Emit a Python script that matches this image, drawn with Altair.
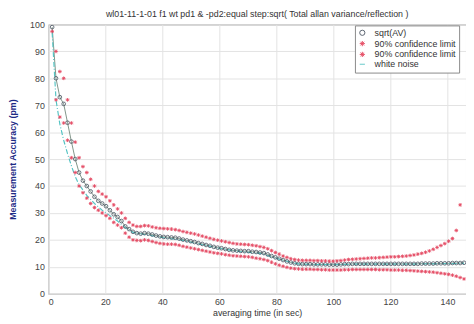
import altair as alt
import pandas as pd

# sample times (sec)
tau = [1.35, 2.7, 4.05, 5.4, 6.75, 8.1, 9.45, 10.8, 12.15, 13.5, 14.85, 16.2, 17.55, 18.9,
       20.25, 21.6, 22.95, 24.3, 25.65, 27, 28.35, 29.7, 31.05, 32.4, 33.75, 35.1, 36.45,
       37.8, 39.15, 40.5, 41.85, 43.2, 44.55, 45.9, 47.25, 48.6, 49.95, 51.3, 52.65, 54,
       55.35, 56.7, 58.05, 59.4, 60.75, 62.1, 63.45, 64.8, 66.15, 67.5, 68.85, 70.2, 71.55,
       72.9, 74.25, 75.6, 76.95, 78.3, 79.65, 81, 82.35, 83.7, 85.05, 86.4, 87.75, 89.1,
       90.45, 91.8, 93.15, 94.5, 95.85, 97.2, 98.55, 99.9, 101.25, 102.6, 103.95, 105.3,
       106.65, 108, 109.35, 110.7, 112.05, 113.4, 114.75, 116.1, 117.45, 118.8, 120.15,
       121.5, 122.85, 124.2, 125.55, 126.9, 128.25, 129.6, 130.95, 132.3, 133.65, 135,
       136.35, 137.7, 139.05, 140.4, 141.75, 143.1, 144.45, 145.8]

upper = [112, 90, 82.5, 80, 72, 63.4, 56.3, 50.5, 47.2, 45, 42.5, 40, 38, 37,
         36, 34.5, 33, 31.5, 30, 28, 26.5, 25.5, 25, 25, 25.3, 25.2, 24.8,
         24.5, 24.3, 24.2, 24.1, 24, 23.8, 23.5, 23.1, 22.8, 22.5, 22.2, 21.8, 21.4,
         21, 20.6, 20.2, 19.9, 19.6, 19.3, 19, 18.7, 18.5, 18.4, 18.3, 18.2, 18,
         17.8, 17.5, 17.2, 16.7, 16, 15.3, 14.7, 14, 13.5, 13, 12.7, 12.5, 12.4,
         12.4, 12.4, 12.3, 12.3, 12.2, 12.2, 12.1, 12.1, 12.2, 12.3, 12.5, 12.7,
         12.8, 12.9, 13, 13.1, 13.2, 13.3, 13.3, 13.4, 13.5, 13.6, 13.7,
         13.7, 13.8, 13.9, 14, 14.2, 14.4, 14.7, 15, 15.4, 15.9, 16.5,
         17.2, 17.9, 18.6, 19.5, 20.5, 23.5, 33, None]

sqrt_av = [99, 80, 73, 70.5, 63.5, 56.5, 50, 45, 42, 40, 38, 36, 34.5, 33.5,
           32.5, 31, 29.5, 28.5, 27, 25, 24, 23, 22.5, 22.3, 22.5, 22.3, 22,
           21.6, 21.3, 21.1, 21, 20.9, 20.8, 20.5, 20.1, 19.8, 19.5, 19.2, 18.8, 18.5,
           18.1, 17.8, 17.4, 17.1, 16.9, 16.6, 16.3, 16.1, 16, 15.9, 15.8, 15.8, 15.6,
           15.5, 15.3, 15.1, 14.6, 14, 13.5, 13, 12.5, 12, 11.6, 11.3, 11.1, 11,
           11, 11, 10.9, 10.9, 10.9, 10.9, 10.8, 10.8, 10.8, 10.9, 11, 11,
           11.1, 11.1, 11.1, 11.1, 11.1, 11.1, 11.1, 11.1, 11.1, 11.1, 11.1,
           11.1, 11.1, 11.1, 11.1, 11.1, 11.1, 11.1, 11.2, 11.2, 11.2, 11.2,
           11.3, 11.3, 11.3, 11.3, 11.4, 11.4, 11.4, 11.5]

lower = [97.4, 72, 65.6, 63.4, 57, 50.5, 45, 40, 37.5, 35.5, 33.5, 32, 31, 30,
         29, 28, 26.5, 25.5, 24.5, 22.5, 21, 20, 19.8, 19.7, 20, 19.8, 19.4,
         19, 18.7, 18.5, 18.4, 18.4, 18.3, 18, 17.6, 17.3, 17, 16.7, 16.4, 16.1,
         15.8, 15.5, 15.2, 15, 14.8, 14.5, 14.3, 14.1, 14, 13.9, 13.8, 13.7, 13.5,
         13.2, 13, 12.7, 12.3, 11.7, 11.1, 10.6, 10.2, 9.8, 9.5, 9.3, 9.2, 9.1,
         9.1, 9.1, 9, 9, 8.9, 8.9, 8.8, 8.8, 8.8, 8.8, 8.9, 8.9,
         9, 9, 9, 9, 9, 9, 9, 8.9, 8.9, 8.9, 8.8,
         8.8, 8.8, 8.7, 8.7, 8.6, 8.5, 8.4, 8.3, 8.2, 8.1, 8,
         7.8, 7.6, 7.4, 7.2, 6.9, 6.5, 6, 5.5]

wn_tau = [1.35, 2.7, 4.05, 5.4, 6.75, 8.1, 9.45, 10.8, 12.15, 13.5, 14.85, 16.2, 18.9,
          21.6, 24.3, 27, 29.7, 33.75, 40.5, 47.25, 54, 60.75, 67.5, 74.25, 81, 87.75,
          94.5, 101.25, 108, 114.75, 121.5, 128.25, 135, 141.75, 145.8]
white_noise = [97, 72, 63, 57, 52, 47.5, 43.5, 40.5, 38.5, 36.5, 35, 33.5, 31,
               29, 27, 24.5, 22.8, 22, 20.8, 19.8, 18.2, 16.7, 15.6, 15, 12.8, 11,
               10.8, 10.8, 11, 11, 11, 11, 11.1, 11.2, 11.3]

names = ["sqrt(AV)", "90% confidence limit", "90% confidence limit ", "white noise"]

rows = []
for t, v in zip(tau, sqrt_av):
    rows.append({"x": t, "y": v, "s": names[0]})
for t, v in zip(tau, upper):
    if v is not None:
        rows.append({"x": t, "y": v, "s": names[1]})
for t, v in zip(tau, lower):
    rows.append({"x": t, "y": v, "s": names[2]})
pts = pd.DataFrame(rows)
wn = pd.DataFrame({"x": wn_tau, "y": white_noise, "s": names[3]})
mid = pd.DataFrame({"x": tau, "y": sqrt_av})

FONT = "Liberation Sans"
asterisk = "M-1,0H1M0,-1V1M-0.7,-0.7L0.7,0.7M-0.7,0.7L0.7,-0.7"

xs = alt.Scale(domain=[0, 146.5], nice=False, zero=False)
ys = alt.Scale(domain=[0, 100], nice=False)
color = alt.Color("s:N", scale=alt.Scale(domain=names,
                  range=["#4a5462", "#e33a55", "#e33a55", "#55c4c4"]),
                  legend=alt.Legend(title=None, orient="none", legendX=312, legendY=1,
                                    strokeColor="#8a8a8a", fillColor="white",
                                    padding=3, rowPadding=0, labelFontSize=9,
                                    labelFont=FONT, labelColor="#333",
                                    symbolSize=28, symbolStrokeWidth=1,
                                    labelOffset=8))
shape = alt.Shape("s:N", scale=alt.Scale(domain=names,
                  range=["circle", asterisk, asterisk, "stroke"]))

xax = alt.X("x:Q", scale=xs, title="averaging time (in sec)",
            axis=alt.Axis(values=[0, 20, 40, 60, 80, 100, 120, 140]))
yax = alt.Y("y:Q", scale=ys, title="Measurement Accuracy (pm)",
            axis=alt.Axis(values=list(range(0, 101, 10)),
                          titleColor="#1c2a85", titleFontWeight="bold",
                          titleX=-31, titleY=137))

line_mid = alt.Chart(mid).mark_line(color="#7f9488", strokeWidth=1, clip=True).encode(
    x=xax, y=yax)
line_wn = alt.Chart(wn).mark_line(strokeWidth=1.2, strokeDash=[5, 2, 1, 2], clip=True).encode(
    x=xax, y=yax, color=color)
points = alt.Chart(pts).mark_point(filled=False, size=14, strokeWidth=0.9,
                                   opacity=0.9, clip=True).encode(
    x=xax, y=yax, color=color, shape=shape)

chart = alt.layer(line_mid, line_wn, points).properties(
    width=425, height=274,
    title=alt.Title("wl01-11-1-01 f1 wt pd1 & -pd2:equal step:sqrt( Total allan variance/reflection )",
                    fontSize=9, font=FONT, fontWeight="normal", color="#333", offset=2),
    autosize=alt.AutoSizeParams(type="none"),
    padding={"left": 41, "top": 14, "right": 0, "bottom": 24},
).configure_view(stroke="#8c8c8c", strokeWidth=1).configure_axis(
    labelFont=FONT, titleFont=FONT, labelFontSize=9, titleFontSize=9,
    labelColor="#444", titleColor="#333", titleFontWeight="normal",
    gridColor="#e2e2e2", gridWidth=1, domain=False, tickSize=0,
    labelPadding=4,
).configure_axisX(titlePadding=2)

chart.save("out.html", embed_options={"renderer": "svg", "actions": False})
